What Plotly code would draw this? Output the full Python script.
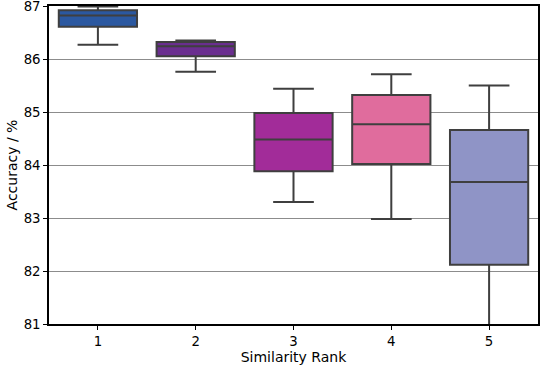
import plotly.graph_objects as go

categories = [1, 2, 3, 4, 5]
q1 = [86.61, 86.05, 83.88, 84.02, 82.12]
median = [86.82, 86.24, 84.48, 84.77, 83.68]
q3 = [86.92, 86.32, 84.98, 85.32, 84.66]
lower_whisker = [86.27, 85.76, 83.30, 82.98, 80.50]
upper_whisker = [86.99, 86.35, 85.44, 85.71, 85.50]
colors = ["#2b58a0", "#6a2e8f", "#a22c99", "#e06c9d", "#8f94c6"]
y_ticks = [81, 82, 83, 84, 85, 86, 87]

fig = go.Figure()
for i, c in enumerate(categories):
    fig.add_trace(go.Box(
        x=[c], q1=[q1[i]], median=[median[i]], q3=[q3[i]],
        lowerfence=[lower_whisker[i]], upperfence=[upper_whisker[i]],
        fillcolor=colors[i], line=dict(color="#3f3f3f", width=2),
        width=0.8, whiskerwidth=0.52, boxpoints=False, showlegend=False,
        hoverinfo="skip",
    ))

fig.update_layout(
    width=540, height=370,
    margin=dict(l=49, r=2, t=6, b=46, autoexpand=False),
    paper_bgcolor="white", plot_bgcolor="white",
    font=dict(family="DejaVu Sans", size=14, color="black"),
    showlegend=False,
)
fig.update_xaxes(
    range=[0.5, 5.5], tickvals=categories, ticktext=[str(c) for c in categories],
    showgrid=False, zeroline=False, automargin=False, tickfont=dict(size=13.3),
    showline=True, linecolor="black", linewidth=1.5, mirror=True,
    ticks="outside", ticklen=4, tickcolor="black",
    title=dict(text="Similarity Rank", font=dict(size=14), standoff=3),
)
fig.update_yaxes(
    range=[81, 87], tickvals=y_ticks, automargin=False, ticklabeloverflow="allow",
    tickfont=dict(size=13.3),
    showgrid=True, gridcolor="#8c8c8c", gridwidth=1, zeroline=False,
    showline=True, linecolor="black", linewidth=1.5, mirror=True,
    ticks="outside", ticklen=4, tickcolor="black",
    title=dict(text="Accuracy / %", font=dict(size=14), standoff=3),
)
fig.write_html("out.html", config={"displayModeBar": False},
               post_script="document.body.style.margin='0';")
